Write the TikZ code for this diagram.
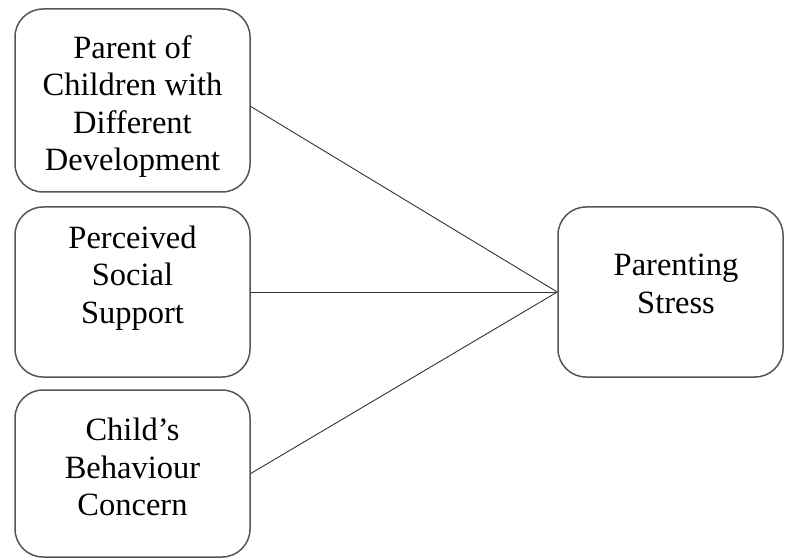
\documentclass[tikz,border=0pt]{standalone}
\usepackage{fontspec}
\setmainfont{Liberation Serif}
\usepackage{tikz}
\usetikzlibrary{positioning}
\definecolor{boxgray}{HTML}{555555}
\tikzset{
  varbox/.style={draw=boxgray, line width=1.5pt, rounded corners=28pt, inner sep=0pt},
  vartext/.style={align=center, inner sep=0pt, font=\fontsize{32.5}{37.5}\selectfont},
  link/.style={color=black!80, line width=0.9pt}
}
\begin{document}
\begin{tikzpicture}[x=1pt,y=-1pt]
\useasboundingbox (0,0) rectangle (785,559);
% boxes
\node (pcdd) at (132.5,100.5) [varbox, minimum width=235pt, minimum height=183pt] {};
\node (pss)  at (132.5,292)   [varbox, minimum width=235pt, minimum height=170pt] {};
\node (cbc)  at (132.5,473.5) [varbox, minimum width=235pt, minimum height=167pt] {};
\node (ps)   at (670.5,292)   [varbox, minimum width=225pt, minimum height=170pt] {};
% texts
\node (pcddtext) at (132.5,106.5) [vartext] {Parent of\\Children with\\Different\\Development};
\node (psstext)  at (132.5,278)   [vartext] {Perceived\\Social\\Support};
\node (cbctext)  at (132.5,467)   [vartext] {Child’s\\Behaviour\\Concern};
\node (pstext)   at (676,284)     [vartext] {Parenting\\Stress};
% links
\draw[link] ([yshift=-6pt]pcdd.east) -- (ps.west);
\draw[link] (pss.east) -- (ps.west);
\draw[link] (cbc.east) -- (ps.west);
\end{tikzpicture}
\end{document}
